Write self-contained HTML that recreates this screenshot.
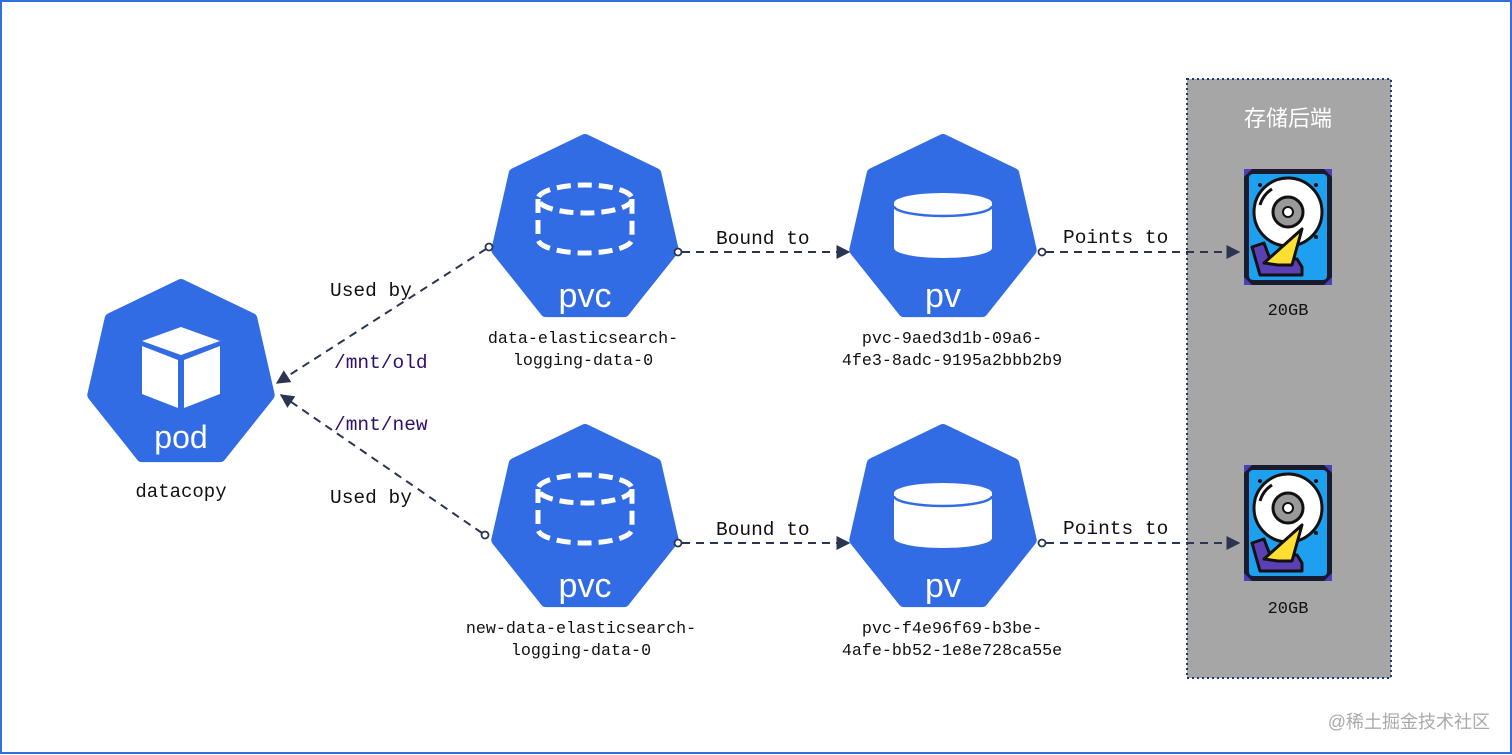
<!DOCTYPE html>
<html><head><meta charset="utf-8"><style>
html,body{margin:0;padding:0;background:#fff}
svg{display:block}
.m{font-family:"Liberation Mono",monospace;fill:#111}
.w{font-family:"Liberation Sans","DejaVu Sans",sans-serif;fill:#fff}
</style></head><body>
<svg width="1512" height="755" viewBox="0 0 1512 755" xmlns="http://www.w3.org/2000/svg">
<defs>
<polygon id="hep" points="0,-90 70.4,-56.1 87.7,20 39,81.1 -39,81.1 -87.7,20 -70.4,-56.1" fill="#326ce5" stroke="#326ce5" stroke-width="12" stroke-linejoin="round"/>
<marker id="ar" viewBox="0 0 10 10" refX="9" refY="5" markerWidth="14" markerHeight="14" markerUnits="userSpaceOnUse" orient="auto"><path d="M0,0 L10,5 L0,10 z" fill="#2b3552"/></marker>
<g id="pvcicon" fill="none" stroke="#fff" stroke-width="5" stroke-dasharray="14 7">
<ellipse cx="0" cy="-31" rx="47" ry="14"/>
<path d="M-47,-31 V 9 A47 14 0 0 0 47 9 V -31"/>
</g>
<g id="pvicon" fill="#fff">
<path d="M-49,-27 A49 10 0 0 1 49 -27 V 18 A49 10 0 0 1 -49 18 Z"/>
<path d="M-49,-24 A49 10 0 0 0 49 -24" fill="none" stroke="#326ce5" stroke-width="2.5"/>
</g>
<g id="disk">
<rect x="2" y="2" width="88" height="116" rx="6" fill="#1a1a2e"/>
<rect x="7" y="7" width="78" height="106" rx="4" fill="#1ea0f0"/>
<polygon points="2,2 10,2 2,10" fill="#4a3fb5"/><polygon points="90,2 82,2 90,10" fill="#4a3fb5"/>
<polygon points="2,118 10,118 2,110" fill="#4a3fb5"/><polygon points="90,118 82,118 90,110" fill="#4a3fb5"/>
<circle cx="46" cy="45" r="34" fill="#fff" stroke="#111" stroke-width="3"/>
<circle cx="46" cy="45" r="15" fill="#999" stroke="#111" stroke-width="3"/>
<circle cx="46" cy="45" r="5" fill="#fff" stroke="#111" stroke-width="2"/>
<path d="M18,38 A28 28 0 0 1 30 22" fill="none" stroke="#111" stroke-width="3"/>
<path d="M10,80 L22,76 L28,92 L55,92 L60,100 L60,108 L18,108 Z" fill="#5b3fb5" stroke="#111" stroke-width="3" stroke-linejoin="round"/>
<path d="M22,96 L60,62 L50,98 L36,98 Z" fill="#ffe030" stroke="#111" stroke-width="3" stroke-linejoin="round"/>
<circle cx="18" cy="18" r="2" fill="#111"/><circle cx="74" cy="18" r="2" fill="#111"/><circle cx="74" cy="70" r="2" fill="#111"/>
</g>
</defs>
<rect x="1" y="1" width="1510" height="752" fill="#fff" stroke="#2f6fe0" stroke-width="2"/>
<rect x="1187" y="79" width="204" height="599" fill="#a6a6a6" stroke="#1d3a78" stroke-width="2" stroke-dasharray="2 3"/>
<text x="1288" y="126" class="w" font-size="22" text-anchor="middle" style="font-family:'Noto Sans CJK SC',sans-serif">存储后端</text>

<!-- pod -->
<use href="#hep" x="181" y="375"/>
<polygon points="181,327 220,341 181,355 142,341" fill="#fff"/>
<polygon points="142,346 178,360 178,408 142,394" fill="#fff"/>
<polygon points="220,346 184,360 184,408 220,394" fill="#fff"/>
<text x="181" y="448" class="w" font-size="32" text-anchor="middle">pod</text>
<text x="181" y="497" class="m" font-size="19" text-anchor="middle">datacopy</text>

<!-- pvcs -->
<use href="#hep" x="585" y="230"/><use href="#pvcicon" x="585" y="230"/>
<text x="585" y="307" class="w" font-size="34" text-anchor="middle">pvc</text>
<use href="#hep" x="585" y="520"/><use href="#pvcicon" x="585" y="520"/>
<text x="585" y="597" class="w" font-size="34" text-anchor="middle">pvc</text>
<text x="583" y="343" class="m" font-size="16.7" text-anchor="middle">data-elasticsearch-</text>
<text x="583" y="365" class="m" font-size="16.7" text-anchor="middle">logging-data-0</text>
<text x="581" y="633" class="m" font-size="16.7" text-anchor="middle">new-data-elasticsearch-</text>
<text x="581" y="655" class="m" font-size="16.7" text-anchor="middle">logging-data-0</text>

<!-- pvs -->
<use href="#hep" x="943" y="230"/><use href="#pvicon" x="943" y="230"/>
<text x="943" y="307" class="w" font-size="34" text-anchor="middle">pv</text>
<use href="#hep" x="943" y="520"/><use href="#pvicon" x="943" y="520"/>
<text x="943" y="597" class="w" font-size="34" text-anchor="middle">pv</text>
<text x="952" y="343" class="m" font-size="16.7" text-anchor="middle">pvc-9aed3d1b-09a6-</text>
<text x="952" y="365" class="m" font-size="16.7" text-anchor="middle">4fe3-8adc-9195a2bbb2b9</text>
<text x="952" y="633" class="m" font-size="16.7" text-anchor="middle">pvc-f4e96f69-b3be-</text>
<text x="952" y="655" class="m" font-size="16.7" text-anchor="middle">4afe-bb52-1e8e728ca55e</text>

<!-- disks -->
<use href="#disk" x="1242" y="167"/>
<use href="#disk" x="1242" y="463"/>
<text x="1288" y="315" class="m" font-size="17" text-anchor="middle">20GB</text>
<text x="1288" y="613" class="m" font-size="17" text-anchor="middle">20GB</text>

<!-- connectors -->
<g stroke="#2b3552" stroke-width="2" stroke-dasharray="8 6" fill="none">
<line x1="486" y1="249" x2="277" y2="383" marker-end="url(#ar)"/>
<line x1="482" y1="533" x2="281" y2="395" marker-end="url(#ar)"/>
<line x1="682" y1="252" x2="849" y2="252" marker-end="url(#ar)"/>
<line x1="1046" y1="252" x2="1239" y2="252" marker-end="url(#ar)"/>
<line x1="682" y1="543" x2="849" y2="543" marker-end="url(#ar)"/>
<line x1="1046" y1="543" x2="1239" y2="543" marker-end="url(#ar)"/>
</g>
<g fill="#fff" stroke="#2b3552" stroke-width="1.8">
<circle cx="489" cy="247" r="3.5"/><circle cx="485" cy="535" r="3.5"/>
<circle cx="678" cy="252" r="3.5"/><circle cx="1042" cy="252" r="3.5"/>
<circle cx="678" cy="543" r="3.5"/><circle cx="1042" cy="543" r="3.5"/>
</g>

<text x="330" y="296" class="m" font-size="19.5">Used by</text>
<text x="330" y="503" class="m" font-size="19.5">Used by</text>
<text x="334" y="368" class="m" font-size="19.5" style="fill:#2e0f6e">/mnt/old</text>
<text x="334" y="430" class="m" font-size="19.5" style="fill:#2e0f6e">/mnt/new</text>
<text x="716" y="244" class="m" font-size="19.5">Bound to</text>
<text x="716" y="535" class="m" font-size="19.5">Bound to</text>
<text x="1063" y="243" class="m" font-size="19.5">Points to</text>
<text x="1063" y="534" class="m" font-size="19.5">Points to</text>

<text x="1490" y="728" font-size="18" text-anchor="end" fill="#aaa" style="font-family:'Liberation Sans','Noto Sans CJK SC',sans-serif">@稀土掘金技术社区</text>
</svg>
</body></html>
